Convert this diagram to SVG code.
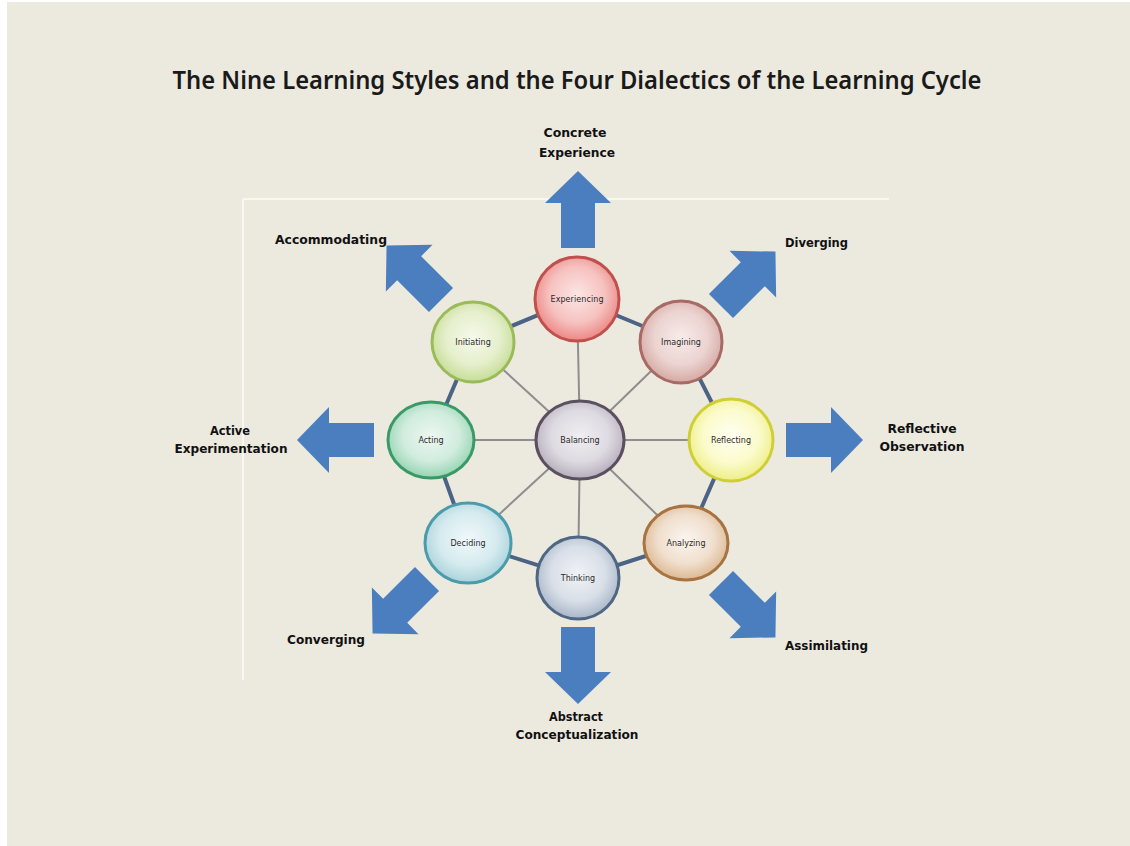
<svg xmlns="http://www.w3.org/2000/svg" width="1130" height="846" viewBox="0 0 1130 846">
<style>
.lbl{font-family:"DejaVu Sans","Liberation Sans",sans-serif;font-weight:bold;font-size:11.5px;fill:#111}
.in{font-family:"DejaVu Sans","Liberation Sans",sans-serif;font-size:8px;fill:#2a2a2a;text-anchor:middle}
.rim{stroke:#4B6385;stroke-width:4;fill:none}
.spoke{stroke:#8E8E8E;stroke-width:2;fill:none}
.arr{fill:#4A7EBF}
.node{stroke-width:3}
</style>
<defs>
<path id="arrow" d="M0,-17 H45 V-33 L77,0 L45,33 V17 H0 Z"/>
<radialGradient id="gExp" cx="50%" cy="45%" r="55%"><stop offset="0" stop-color="#FCE6E5"/><stop offset="0.6" stop-color="#F6C2C0"/><stop offset="1" stop-color="#EC8784"/></radialGradient>
<radialGradient id="gIma" cx="50%" cy="45%" r="55%"><stop offset="0" stop-color="#F7ECEA"/><stop offset="0.6" stop-color="#EBD3D0"/><stop offset="1" stop-color="#D5A8A3"/></radialGradient>
<radialGradient id="gIni" cx="50%" cy="45%" r="55%"><stop offset="0" stop-color="#F6F9EC"/><stop offset="0.6" stop-color="#E5EFCC"/><stop offset="1" stop-color="#C6DD96"/></radialGradient>
<radialGradient id="gAct" cx="50%" cy="45%" r="55%"><stop offset="0" stop-color="#EDF7F1"/><stop offset="0.6" stop-color="#D0ECDD"/><stop offset="1" stop-color="#96D4B2"/></radialGradient>
<radialGradient id="gBal" cx="50%" cy="45%" r="55%"><stop offset="0" stop-color="#F0EEF2"/><stop offset="0.6" stop-color="#DEDAE1"/><stop offset="1" stop-color="#B5AEBB"/></radialGradient>
<radialGradient id="gRef" cx="50%" cy="45%" r="55%"><stop offset="0" stop-color="#FFFFF2"/><stop offset="0.6" stop-color="#FBFBCC"/><stop offset="1" stop-color="#EEEE88"/></radialGradient>
<radialGradient id="gDec" cx="50%" cy="45%" r="55%"><stop offset="0" stop-color="#F0F8FA"/><stop offset="0.6" stop-color="#D6EBEF"/><stop offset="1" stop-color="#A9D3DB"/></radialGradient>
<radialGradient id="gThi" cx="50%" cy="45%" r="55%"><stop offset="0" stop-color="#F0F2F6"/><stop offset="0.6" stop-color="#D9DFE8"/><stop offset="1" stop-color="#A9B6C8"/></radialGradient>
<radialGradient id="gAna" cx="50%" cy="45%" r="55%"><stop offset="0" stop-color="#FCF5EF"/><stop offset="0.6" stop-color="#F0DFCE"/><stop offset="1" stop-color="#DDB891"/></radialGradient>
</defs>
<rect x="0" y="0" width="1130" height="846" fill="#ffffff"/>
<rect x="7" y="2" width="1123" height="844" fill="#ECE9DF"/>
<path d="M243,199 H889 M243,199 V680" stroke="#F9F7F1" stroke-width="2" fill="none"/>
<text x="577" y="89" font-family="'Noto Sans','Open Sans',sans-serif" font-weight="600" font-size="25" fill="#1a1a1a" text-anchor="middle" textLength="809" lengthAdjust="spacingAndGlyphs">The Nine Learning Styles and the Four Dialectics of the Learning Cycle</text>
<g id="connectors">
<path class="spoke" d="M580,440 L577,299 M580,440 L681,342 M580,440 L731,440 M580,440 L686,543 M580,440 L578,578 M580,440 L468,543 M580,440 L431,440 M580,440 L473,342"/>
<path class="rim" d="M577,299 L681,342 L731,440 L686,543 L578,578 L468,543 L431,440 L473,342 Z"/>
</g>
<g id="arrows">
<use href="#arrow" class="arr" transform="translate(578,248) rotate(-90)"/>
<use href="#arrow" class="arr" transform="translate(578,627) rotate(90)"/>
<use href="#arrow" class="arr" transform="translate(374,440) rotate(180)"/>
<use href="#arrow" class="arr" transform="translate(786,440)"/>
<use href="#arrow" class="arr" transform="translate(721,306) rotate(-45)"/>
<use href="#arrow" class="arr" transform="translate(441,300) rotate(-135)"/>
<use href="#arrow" class="arr" transform="translate(427,579) rotate(135)"/>
<use href="#arrow" class="arr" transform="translate(721,583) rotate(45)"/>
</g>
<g id="n-experiencing"><ellipse class="node" cx="577" cy="299" rx="42" ry="42" fill="url(#gExp)" stroke="#C0504D"/><text class="in" x="577" y="302" textLength="53">Experiencing</text></g>
<g id="n-imagining"><ellipse class="node" cx="681" cy="342" rx="41" ry="41" fill="url(#gIma)" stroke="#A86A65"/><text class="in" x="681" y="345">Imagining</text></g>
<g id="n-initiating"><ellipse class="node" cx="473" cy="342" rx="41" ry="40" fill="url(#gIni)" stroke="#9BBB59"/><text class="in" x="473" y="345">Initiating</text></g>
<g id="n-acting"><ellipse class="node" cx="431" cy="440" rx="43" ry="38" fill="url(#gAct)" stroke="#3A9A67"/><text class="in" x="431" y="443">Acting</text></g>
<g id="n-balancing"><ellipse class="node" cx="580" cy="440" rx="44" ry="39" fill="url(#gBal)" stroke="#5A5060"/><text class="in" x="580" y="443">Balancing</text></g>
<g id="n-reflecting"><ellipse class="node" cx="731" cy="440" rx="42" ry="41" fill="url(#gRef)" stroke="#CFCF35"/><text class="in" x="731" y="443">Reflecting</text></g>
<g id="n-deciding"><ellipse class="node" cx="468" cy="543" rx="43" ry="40" fill="url(#gDec)" stroke="#4B9CAB"/><text class="in" x="468" y="546">Deciding</text></g>
<g id="n-thinking"><ellipse class="node" cx="578" cy="578" rx="41" ry="41" fill="url(#gThi)" stroke="#4E6783"/><text class="in" x="578" y="581">Thinking</text></g>
<g id="n-analyzing"><ellipse class="node" cx="686" cy="543" rx="42" ry="37" fill="url(#gAna)" stroke="#A77340"/><text class="in" x="686" y="546">Analyzing</text></g>
<g id="labels">
<text class="lbl" x="575" y="137" text-anchor="middle" textLength="63" lengthAdjust="spacingAndGlyphs">Concrete</text>
<text class="lbl" x="577" y="157" text-anchor="middle" textLength="76" lengthAdjust="spacingAndGlyphs">Experience</text>
<text class="lbl" x="275" y="244" textLength="112" lengthAdjust="spacingAndGlyphs">Accommodating</text>
<text class="lbl" x="785" y="247" textLength="63" lengthAdjust="spacingAndGlyphs">Diverging</text>
<text class="lbl" x="922" y="433" text-anchor="middle" textLength="69" lengthAdjust="spacingAndGlyphs">Reflective</text>
<text class="lbl" x="922" y="451" text-anchor="middle" textLength="85" lengthAdjust="spacingAndGlyphs">Observation</text>
<text class="lbl" x="230" y="435" text-anchor="middle" textLength="40" lengthAdjust="spacingAndGlyphs">Active</text>
<text class="lbl" x="231" y="453" text-anchor="middle" textLength="113" lengthAdjust="spacingAndGlyphs">Experimentation</text>
<text class="lbl" x="287" y="644" textLength="78" lengthAdjust="spacingAndGlyphs">Converging</text>
<text class="lbl" x="785" y="650" textLength="83" lengthAdjust="spacingAndGlyphs">Assimilating</text>
<text class="lbl" x="576" y="721" text-anchor="middle" textLength="54" lengthAdjust="spacingAndGlyphs">Abstract</text>
<text class="lbl" x="577" y="739" text-anchor="middle" textLength="123" lengthAdjust="spacingAndGlyphs">Conceptualization</text>
</g>
</svg>
